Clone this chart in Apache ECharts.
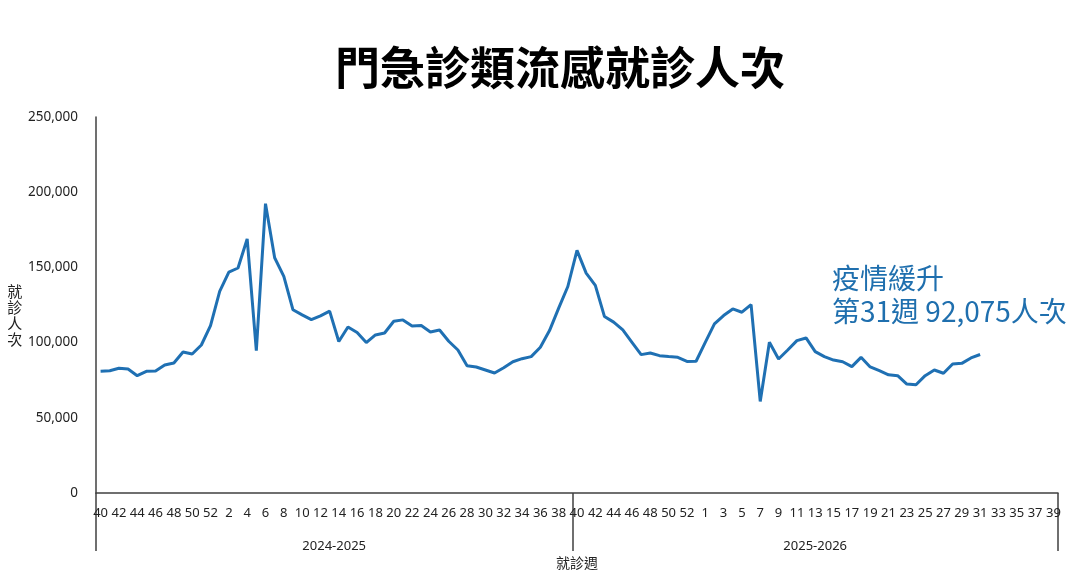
<!DOCTYPE html>
<html>
<head>
<meta charset="utf-8">
<script src="https://cdn.jsdelivr.net/npm/echarts@6/dist/echarts.min.js"></script>
<style>
  html, body { margin: 0; padding: 0; background: #ffffff; }
  #chart { width: 1080px; height: 580px; }
</style>
</head>
<body>
<div id="chart"></div>
<script>
// ---- data ----
const seasons = ['2024-2025', '2025-2026'];
const weeks2425 = [40,41,42,43,44,45,46,47,48,49,50,51,52,
  1,2,3,4,5,6,7,8,9,10,11,12,13,14,15,16,17,18,19,20,21,22,23,24,25,26,27,28,29,30,31,32,33,34,35,36,37,38,39];
const weeks2526 = [40,41,42,43,44,45,46,47,48,49,50,51,52,53,
  1,2,3,4,5,6,7,8,9,10,11,12,13,14,15,16,17,18,19,20,21,22,23,24,25,26,27,28,29,30,31,32,33,34,35,36,37,38,39];
const visits2425 = [81000,81300,82900,82400,78000,80900,81100,85100,86400,93800,92400,98400,111300,
  134000,146900,149600,168900,94700,192400,156400,144000,121800,118400,115300,117800,120900,
  100700,110400,106700,100000,105100,106400,114200,115100,111100,111300,107100,108400,100900,
  95100,84600,83800,81800,79800,83300,87300,89300,90700,96900,108000,122900,137300];
const visits2526 = [161300,146200,138000,117300,113600,108400,100200,92000,93100,91300,90700,90200,87500,87600,
  100200,112400,118000,122400,120200,125300,60900,100200,89100,95100,101300,103100,94000,90700,
  88400,87300,84000,90200,83800,81300,78600,78000,72400,72000,78000,81800,79600,85800,86200,89800,92075];
const yTickValues = [0, 50000, 100000, 150000, 200000, 250000];
const titleText = '門急診類流感就診人次';
const yName = '就診人次';
const xName = '就診週';
const noteHead = '疫情緩升';

// ---- build ----
const categories = weeks2425.map(w => seasons[0] + '|' + w)
  .concat(weeks2526.map(w => seasons[1] + '|' + w));
const seriesData = visits2425.concat(visits2526);
const n1 = weeks2425.length, n2 = weeks2526.length;
const seasonCenters = [n1 / 2, n1 + n2 / 2];
const lastWeek = weeks2526[visits2526.length - 1];
const lastVal = visits2526[visits2526.length - 1];
const noteText = noteHead + '\n第' + lastWeek + '週 ' + lastVal.toLocaleString('en-US') + '人次';

const blue = '#1f70b3';
const axisColor = '#404040';
const cjk = '"Noto Sans CJK TC", "Noto Sans", sans-serif';

const chart = echarts.init(document.getElementById('chart'), null, { renderer: 'canvas' });
chart.setOption({
  backgroundColor: '#ffffff',
  animation: false,
  title: [
    {
      text: titleText,
      left: 560, top: 45, textAlign: 'center',
      padding: 0,
      textStyle: { fontFamily: cjk, fontSize: 45, fontWeight: 'bold', color: '#000000' }
    },
    {
      text: noteText,
      left: 832, top: 262,
      padding: 0,
      textStyle: { fontFamily: cjk, fontSize: 28, fontWeight: 'normal', color: '#1f6fae', lineHeight: 33 }
    }
  ],
  grid: { left: 96, right: 22, top: 117, bottom: 87, containLabel: false },
  xAxis: [
    {
      type: 'category',
      data: categories,
      boundaryGap: true,
      name: xName,
      nameLocation: 'middle',
      nameGap: 63,
      nameTextStyle: { fontFamily: cjk, fontSize: 14, color: '#222222' },
      axisLine: { show: true, lineStyle: { color: axisColor, width: 1.5 } },
      axisTick: {
        show: true,
        interval: (idx) => idx === 0 || idx === n1,
        length: 58,
        lineStyle: { color: axisColor, width: 1.5 }
      },
      axisLabel: {
        interval: 1,
        margin: 14,
        fontFamily: '"Noto Sans", sans-serif',
        fontSize: 13,
        color: '#222222',
        formatter: (v) => v.split('|')[1]
      },
      splitLine: { show: false }
    },
    {
      type: 'value',
      min: 0,
      max: categories.length,
      interval: 0.5,
      position: 'bottom',
      axisLine: { show: false },
      axisTick: { show: false },
      splitLine: { show: false },
      axisLabel: {
        margin: 47,
        fontFamily: '"Noto Sans", sans-serif',
        fontSize: 13,
        color: '#222222',
        showMinLabel: true,
        showMaxLabel: true,
        formatter: (v) => {
          for (let i = 0; i < seasonCenters.length; i++) {
            if (Math.abs(v - seasonCenters[i]) < 1e-6) return seasons[i];
          }
          return '';
        }
      }
    }
  ],
  yAxis: {
    type: 'value',
    min: yTickValues[0],
    max: yTickValues[yTickValues.length - 1],
    interval: yTickValues[1] - yTickValues[0],
    name: '{n|' + yName.split('').join('\n') + '}',
    nameLocation: 'middle',
    nameRotate: 0,
    nameGap: 70,
    nameTextStyle: {
      fontFamily: cjk, fontSize: 15, lineHeight: 16, color: '#222222',
      rich: { n: { fontFamily: cjk, fontSize: 15, lineHeight: 16, color: '#222222', padding: [20, 0, 0, 0] } }
    },
    axisLine: { show: true, lineStyle: { color: axisColor, width: 1.5 } },
    axisTick: { show: false },
    splitLine: { show: false },
    axisLabel: {
      margin: 18,
      fontFamily: '"Noto Sans", sans-serif',
      fontSize: 13.5,
      color: '#222222',
      formatter: (v) => v.toLocaleString('en-US')
    }
  },
  series: [
    {
      type: 'line',
      xAxisIndex: 0,
      data: seriesData,
      symbol: 'none',
      smooth: false,
      lineStyle: { color: blue, width: 3 },
      itemStyle: { color: blue }
    }
  ]
});
</script>
</body>
</html>
